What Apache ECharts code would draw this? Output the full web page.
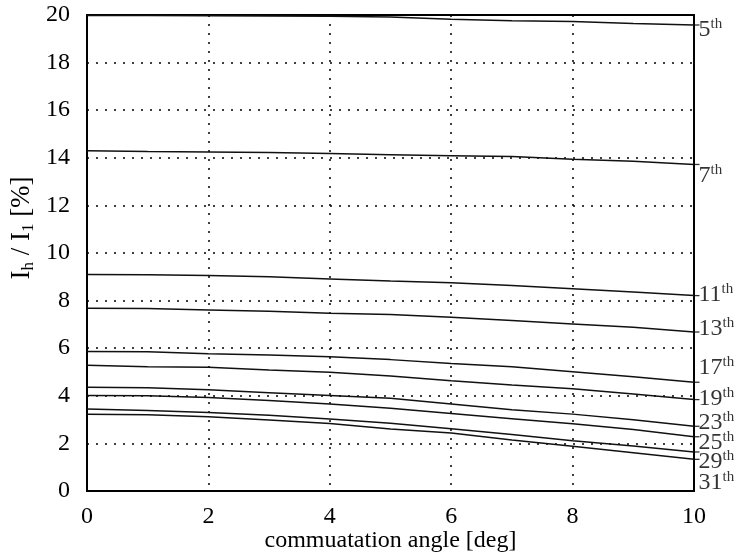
<!DOCTYPE html>
<html>
<head>
<meta charset="utf-8">
<script src="https://cdn.jsdelivr.net/npm/echarts@6/dist/echarts.min.js"></script>
<style>html,body{margin:0;padding:0;background:#fff;}#c{width:740px;height:554px;}</style>
</head>
<body>
<div id="c"></div>
<script>
// commutation angle samples [deg]
const angles = [0, 1, 2, 3, 4, 5, 6, 7, 8, 9, 10];
// harmonic names
const harmonics = ['5', '7', '11', '13', '17', '19', '23', '25', '29', '31'];
// Ih / I1 [%] for each harmonic
const h5  = [19.98, 19.98, 19.97, 19.96, 19.95, 19.92, 19.82, 19.76, 19.73, 19.64, 19.58];
const h7  = [14.30, 14.26, 14.24, 14.22, 14.18, 14.13, 14.09, 14.05, 13.94, 13.86, 13.72];
const h11 = [9.10, 9.09, 9.05, 9.00, 8.91, 8.82, 8.75, 8.63, 8.50, 8.36, 8.21];
const h13 = [7.68, 7.67, 7.61, 7.55, 7.47, 7.42, 7.30, 7.16, 7.02, 6.88, 6.68];
const h17 = [5.86, 5.85, 5.77, 5.71, 5.64, 5.52, 5.36, 5.22, 5.01, 4.80, 4.57];
const h19 = [5.28, 5.22, 5.20, 5.08, 4.99, 4.83, 4.63, 4.45, 4.30, 4.08, 3.84];
const h23 = [4.36, 4.34, 4.25, 4.13, 4.01, 3.90, 3.66, 3.41, 3.23, 2.99, 2.72];
const h25 = [4.01, 4.00, 3.93, 3.80, 3.66, 3.48, 3.26, 3.04, 2.83, 2.58, 2.28];
const h29 = [3.45, 3.38, 3.30, 3.18, 3.03, 2.85, 2.62, 2.37, 2.11, 1.89, 1.64];
const h31 = [3.22, 3.20, 3.12, 2.98, 2.84, 2.60, 2.44, 2.14, 1.88, 1.61, 1.33];
// vertical placement of the right-hand harmonic labels (in % units)
const labelY = [19.38, 13.25, 8.25, 6.82, 5.20, 3.89, 2.86, 2.04, 1.22, 0.36];

const allSeries = [h5, h7, h11, h13, h17, h19, h23, h25, h29, h31];
const FONT = 'Liberation Serif';

const series = allSeries.map((vals, k) => ({
  name: harmonics[k] + 'th',
  type: 'line',
  data: angles.map((a, i) => [a, vals[i]]),
  symbol: 'none',
  lineStyle: { color: '#111', width: 1.5 },
  z: 3
}));

// small leader ticks just outside the right border at each curve end
series.push({
  type: 'scatter',
  data: allSeries.map(v => [angles[angles.length - 1], v[v.length - 1]]),
  symbol: 'rect',
  symbolSize: [5, 1.3],
  symbolOffset: [3, 0],
  itemStyle: { color: '#000' },
  silent: true,
  clip: false,
  z: 4
});

series.push({
  type: 'scatter',
  data: labelY.map((y, k) => ({ value: [10, y], name: harmonics[k] })),
  symbolSize: 1,
  itemStyle: { color: 'rgba(0,0,0,0)' },
  silent: true,
  clip: false,
  label: {
    show: true,
    position: 'right',
    distance: 4,
    formatter: p => '{n|' + p.name + '}{s|th}',
    rich: {
      n: { fontFamily: FONT, fontSize: 24, color: '#000', lineHeight: 26 },
      s: { fontFamily: FONT, fontSize: 15, color: '#000', verticalAlign: 'top', lineHeight: 15 }
    }
  }
});

const chart = echarts.init(document.getElementById('c'), null, { renderer: 'canvas' });
chart.setOption({
  animation: false,
  backgroundColor: '#fff',
  grid: { left: 87, right: 46, top: 15, bottom: 63, outerBoundsMode: 'none', containLabel: false, show: true, borderColor: '#000', borderWidth: 2, backgroundColor: '#fff' },
  xAxis: {
    type: 'value', min: 0, max: 10, interval: 2,
    name: 'commuatation angle [deg]',
    nameLocation: 'middle', nameGap: 38, nameMoveOverlap: false,
    nameTextStyle: { fontFamily: FONT, fontSize: 24, color: '#000' },
    axisLine: { show: true, lineStyle: { color: '#000', width: 2 } },
    axisTick: { show: false },
    axisLabel: { fontFamily: FONT, fontSize: 24, color: '#000', margin: 14 },
    splitLine: { show: true, lineStyle: { color: '#000', width: 1.5, type: [2, 7] } }
  },
  yAxis: {
    type: 'value', min: 0, max: 20, interval: 2,
    name: '{i|I}{sub|h}{i| / I}{sub|1}{i| [%]}',
    nameLocation: 'middle', nameGap: 50, nameMoveOverlap: false,
    nameTextStyle: {
      padding: [0, 0, 0, 50],
      rich: {
        i: { fontFamily: FONT, fontSize: 27, color: '#000', lineHeight: 30 },
        sub: { fontFamily: FONT, fontSize: 17, color: '#000', verticalAlign: 'bottom', lineHeight: 17 }
      }
    },
    axisLine: { show: true, lineStyle: { color: '#000', width: 2 } },
    axisTick: { show: false },
    axisLabel: { fontFamily: FONT, fontSize: 24, color: '#000', margin: 17 },
    splitLine: { show: true, lineStyle: { color: '#000', width: 1.5, type: [2, 7] } }
  },
  series: series
});
</script>
</body>
</html>
